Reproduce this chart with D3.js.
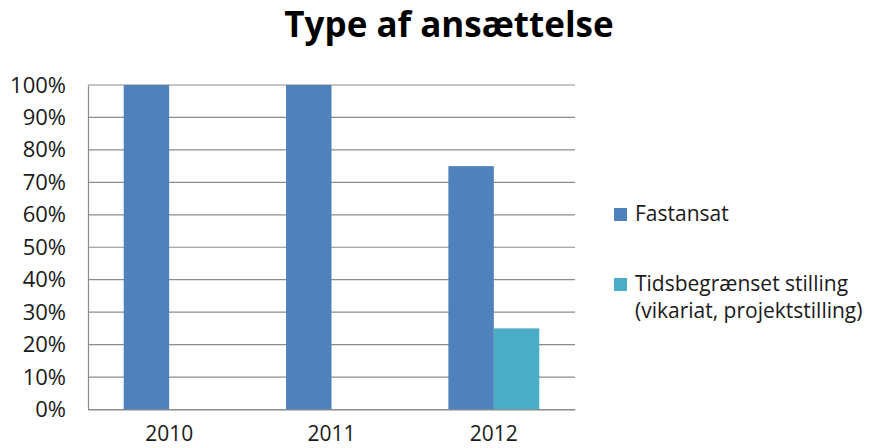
<!DOCTYPE html>
<html lang="da">
<head>
<meta charset="UTF-8">
<title>Type af ansættelse</title>
<script src="https://cdnjs.cloudflare.com/ajax/libs/d3/7.8.5/d3.min.js"></script>
<style>
  body { margin: 0; background: #fff; }
  svg { font-family: "Open Sans", sans-serif; }
</style>
</head>
<body>
<svg id="chart" width="881" height="448"></svg>
<script>
// data
const years = ["2010", "2011", "2012"];
const seriesNames = ["Fastansat", "Tidsbegrænset stilling (vikariat, projektstilling)"];
const fastansat = [1.00, 1.00, 0.75];
const tidsbegraenset = [0.00, 0.00, 0.25];
const yTicks = [0, 0.1, 0.2, 0.3, 0.4, 0.5, 0.6, 0.7, 0.8, 0.9, 1.0];
const colors = ["#4F81BD", "#4BACC6"];

const svg = d3.select("#chart");
const margin = { left: 88, right: 306, top: 85, bottom: 38.5 };
const W = 881, H = 448;

const x = d3.scaleBand()
    .domain(years)
    .range([margin.left, W - margin.right])
    .paddingInner(0.44)
    .paddingOuter(0.22);

const xInner = d3.scaleBand()
    .domain(d3.range(seriesNames.length))
    .range([0, x.bandwidth()]);

const y = d3.scaleLinear()
    .domain([0, 1])
    .range([H - margin.bottom, margin.top]);

// gridlines
svg.append("g")
    .attr("class", "grid")
    .selectAll("line")
    .data(yTicks)
    .enter()
    .append("line")
    .attr("x1", margin.left)
    .attr("x2", W - margin.right)
    .attr("y1", d => y(d))
    .attr("y2", d => y(d))
    .attr("stroke", "#8c8c8c")
    .attr("stroke-width", 1.2);

// bars
const values = years.map((yr, i) => [fastansat[i], tidsbegraenset[i]]);
const groups = svg.append("g")
    .selectAll("g")
    .data(years)
    .enter()
    .append("g")
    .attr("transform", d => `translate(${x(d)},0)`);

groups.selectAll("rect")
    .data((d, i) => values[i].map((v, s) => ({ v, s })))
    .enter()
    .append("rect")
    .filter(d => d.v > 0)
    .attr("x", d => xInner(d.s))
    .attr("width", xInner.bandwidth())
    .attr("y", d => y(d.v))
    .attr("height", d => y(0) - y(d.v))
    .attr("fill", d => colors[d.s]);

// y axis
const yAxis = d3.axisLeft(y)
    .tickValues(yTicks)
    .tickFormat(d3.format(".0%"))
    .tickSize(0)
    .tickPadding(22);

const yg = svg.append("g")
    .attr("transform", `translate(${margin.left},0)`)
    .call(yAxis);
yg.select(".domain").attr("stroke", "#8c8c8c").attr("stroke-width", 1.2);
yg.selectAll("text")
    .attr("font-size", 22)
    .attr("fill", "#1a1a1a")
    .attr("font-family", "'Open Sans', sans-serif");

// x axis
const xAxis = d3.axisBottom(x).tickSize(0).tickPadding(17);
const xg = svg.append("g")
    .attr("transform", `translate(0,${y(0)})`)
    .call(xAxis);
xg.select(".domain").attr("stroke", "#8c8c8c").attr("stroke-width", 1.2);
xg.selectAll("text")
    .attr("font-size", 21)
    .attr("fill", "#1a1a1a")
    .attr("font-family", "'Open Sans', sans-serif");

// title
svg.append("text")
    .attr("x", 449)
    .attr("y", 37)
    .attr("text-anchor", "middle")
    .attr("font-size", 35)
    .attr("font-weight", "bold")
    .attr("fill", "#000")
    .text("Type af ansættelse");

// legend
const legendLines = [["Fastansat"], ["Tidsbegrænset stilling", "(vikariat, projektstilling)"]];
const legend = svg.append("g")
    .selectAll("g")
    .data(legendLines)
    .enter()
    .append("g")
    .attr("transform", (d, i) => `translate(614,${208 + i * 70})`);

legend.append("rect")
    .attr("width", 13)
    .attr("height", 13)
    .attr("fill", (d, i) => colors[i]);

legend.append("text")
    .attr("x", 21)
    .attr("y", 13)
    .attr("font-size", 21)
    .attr("fill", "#1a1a1a")
    .selectAll("tspan")
    .data(d => d)
    .enter()
    .append("tspan")
    .attr("x", 21)
    .attr("dy", (d, i) => i === 0 ? 0 : 27)
    .text(d => d);
</script>
</body>
</html>
